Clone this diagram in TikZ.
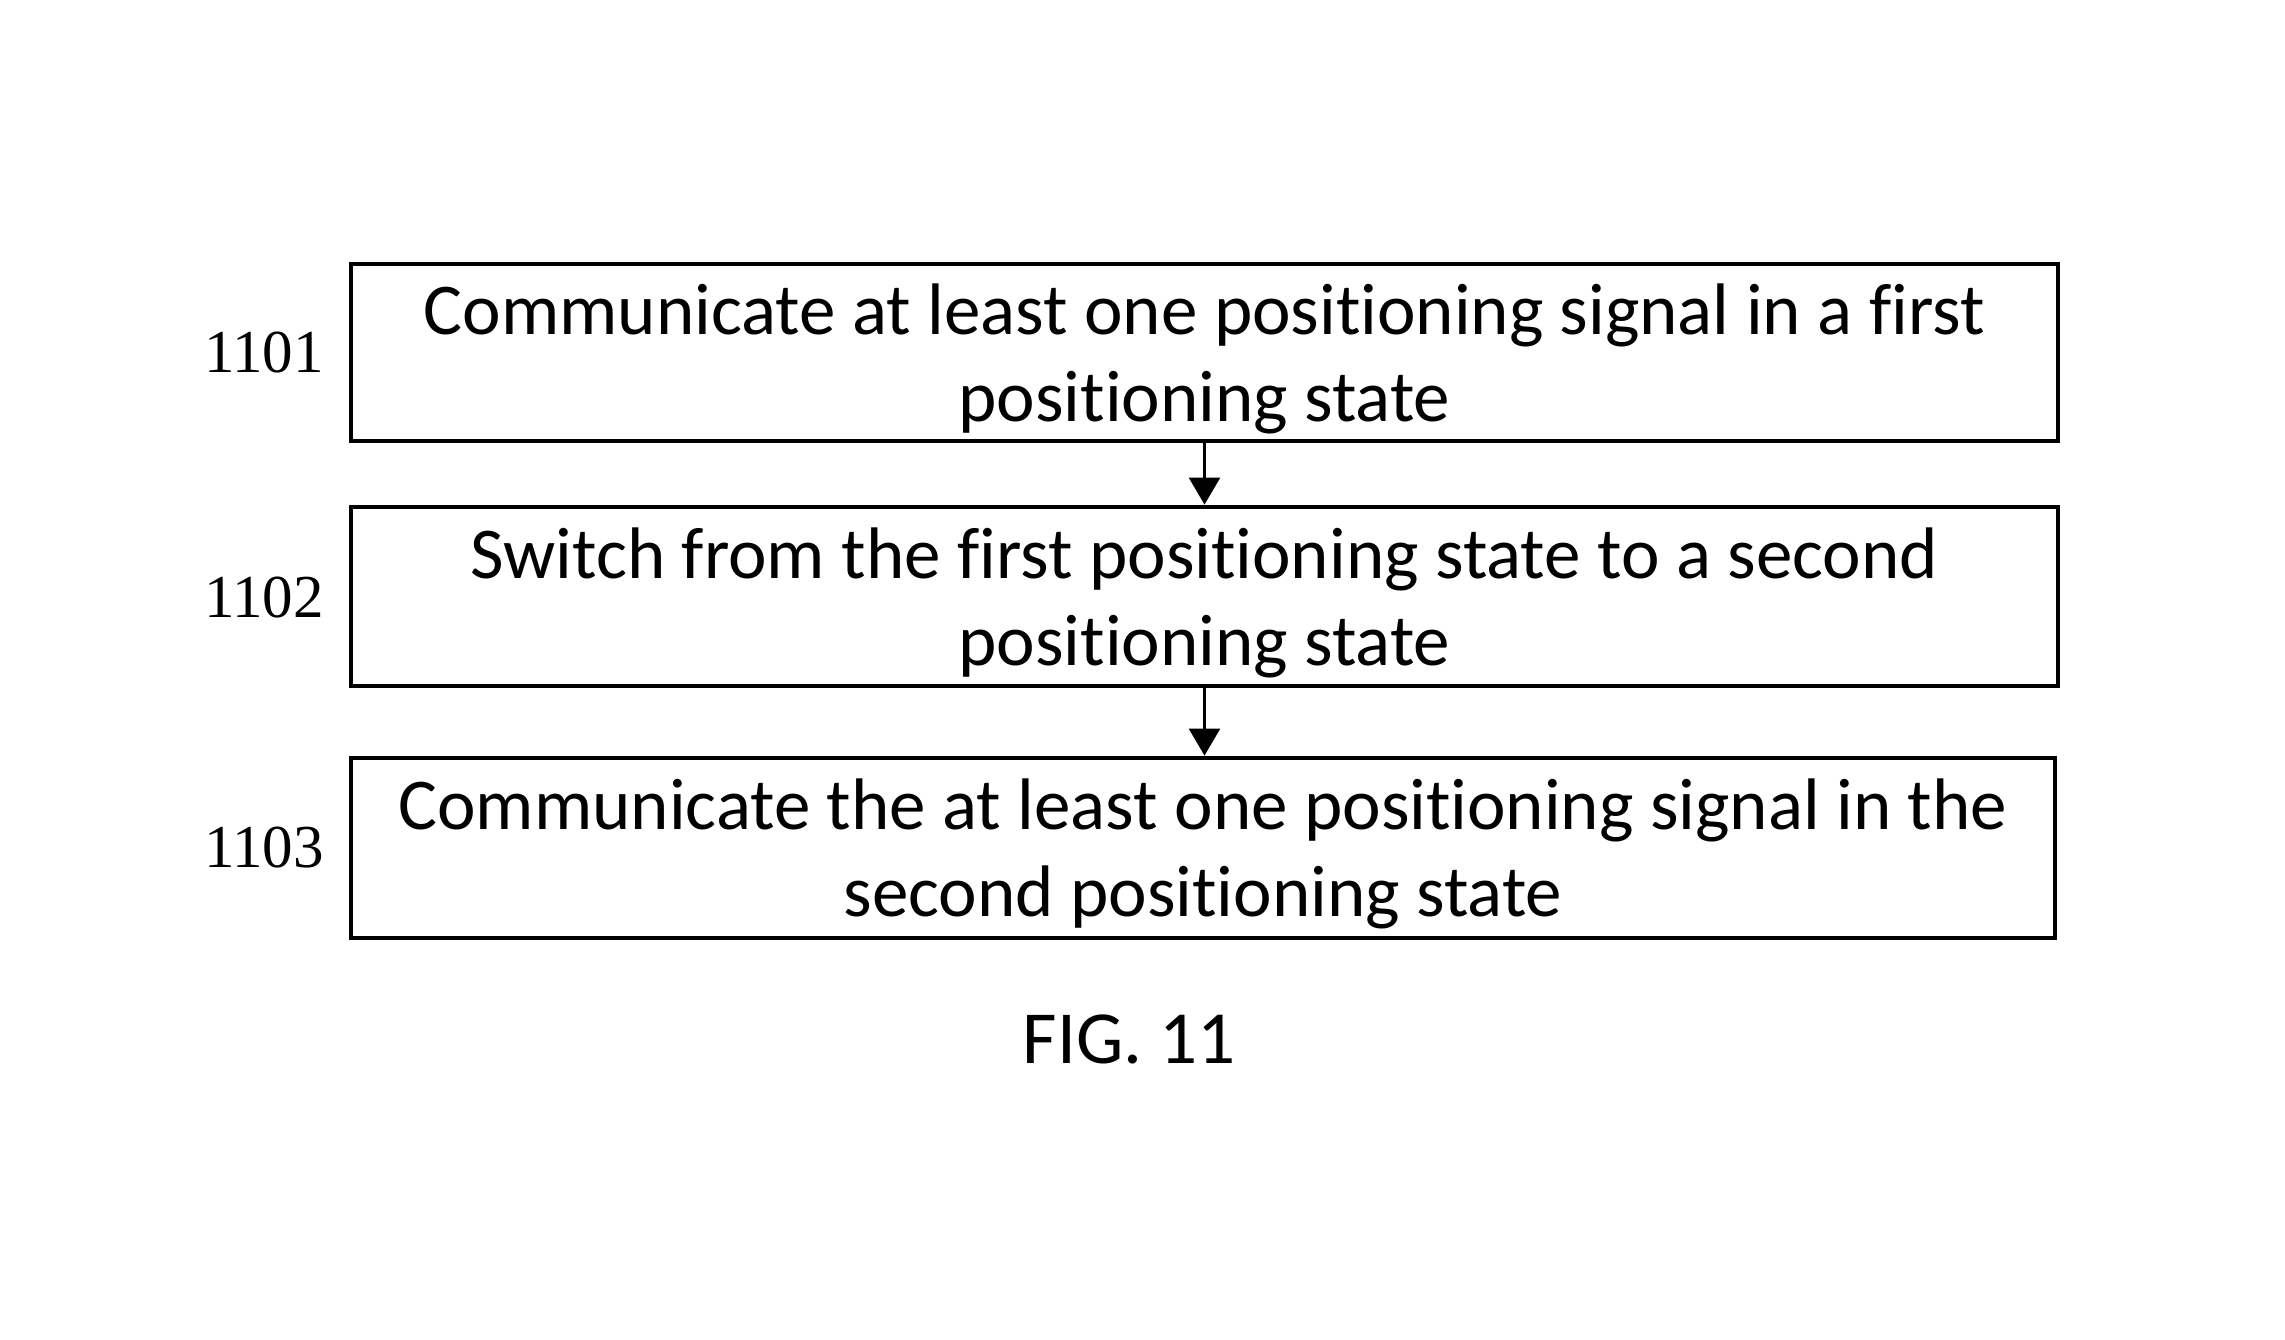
\documentclass[tikz,border=0pt]{standalone}
\usepackage{fontspec}
\setmainfont{Carlito}[Ligatures={NoCommon,NoRequired,NoContextual}]
\newfontfamily\labfont{Liberation Serif}
\usetikzlibrary{arrows.meta}
\begin{document}
\begin{tikzpicture}[x=1pt,y=-1pt,
  stepbox/.style={draw=black, line width=4.8pt, inner sep=0pt},
  steptext/.style={inner sep=0pt, align=center, font=\fontsize{73}{87}\selectfont},
  steplabel/.style={font=\labfont\fontsize{61}{70}\selectfont, inner sep=0pt},
  flow/.style={line width=2.5pt, -{Triangle[width=31pt,length=27pt]}}]
\useasboundingbox (0,0) rectangle (2285,1340);
\fill[white] (0,0) rectangle (2285,1340);
\node[stepbox, minimum width=1707pt, minimum height=177pt] (b1) at (1204.5,352.5) {};
\node[stepbox, minimum width=1707pt, minimum height=179pt] (b2) at (1204.5,596.5) {};
\node[stepbox, minimum width=1704pt, minimum height=180pt] (b3) at (1203,848) {};
\node[steptext] (t1) at ([yshift=-6pt]b1.center)
  {Communicate at least one positioning signal in a first\\positioning state};
\node[steptext] (t2) at ([yshift=-6pt]b2.center)
  {Switch from the first positioning state to a second\\positioning state};
\node[steptext] (t3) at ([yshift=-6pt]b3.center)
  {Communicate the at least one positioning signal in the\\second positioning state};
\node[steplabel] (l1) at (264,353) {1101};
\node[steplabel] (l2) at (264,598) {1102};
\node[steplabel] (l3) at (264,848) {1103};
\draw[flow] (b1.south -| 1204.5,0) -- (b2.north -| 1204.5,0);
\draw[flow] (b2.south -| 1204.5,0) -- (b3.north -| 1204.5,0);
\node[font=\fontsize{75}{90}\selectfont, inner sep=0pt] (fig) at (1129,1039) {FIG. 11};
\end{tikzpicture}
\end{document}
